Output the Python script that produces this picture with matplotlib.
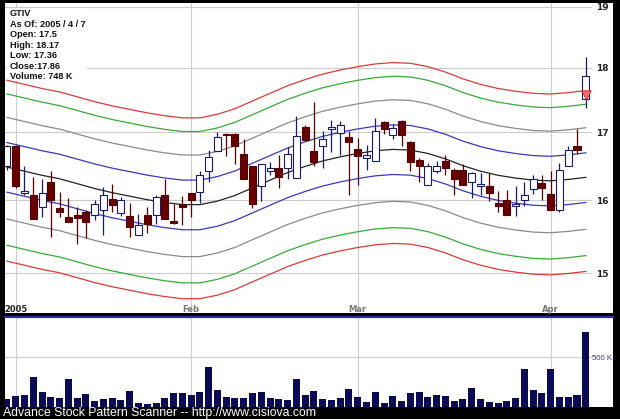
import matplotlib
matplotlib.use("Agg")
import numpy as np
from matplotlib import pyplot as plt
from matplotlib.lines import Line2D
from matplotlib.patches import Rectangle

# daily candles, Dec 31 2004 .. Apr 7 2005 (index = trading day)
opens = [16.49, 16.79, 16.10, 16.08, 15.90, 16.26, 15.89, 15.76, 15.80, 15.83,
         15.80, 15.87, 16.02, 15.82, 15.78, 15.51, 15.80, 15.80, 16.08, 15.71,
         15.95, 16.11, 16.12, 16.42, 16.71, 16.97, 16.97, 16.67, 16.49, 16.20,
         16.42, 16.46, 16.47, 16.32, 17.07, 16.71, 16.79, 17.05, 16.98, 16.92,
         16.75, 16.61, 16.57, 17.15, 16.95, 17.16, 16.85, 16.59, 16.22, 16.42,
         16.57, 16.43, 16.43, 16.27, 16.20, 16.20, 15.97, 16.00, 15.92, 16.00,
         16.16, 16.25, 16.09, 15.86, 16.50, 16.79, 17.50]
highs = [16.80, 16.80, 16.49, 16.34, 16.31, 16.42, 16.12, 16.04, 15.90, 15.86,
         16.01, 16.19, 16.24, 16.05, 15.97, 15.81, 15.90, 16.08, 16.30, 15.95,
         16.06, 16.11, 16.42, 16.73, 17.00, 16.98, 16.98, 16.89, 16.50, 16.52,
         16.56, 16.65, 16.77, 17.25, 17.11, 17.46, 17.02, 17.18, 17.16, 17.02,
         16.91, 16.81, 17.22, 17.16, 17.12, 17.18, 16.86, 16.62, 16.54, 16.57,
         16.66, 16.46, 16.52, 16.41, 16.39, 16.39, 16.13, 16.15, 16.20, 16.27,
         16.37, 16.37, 16.42, 16.54, 16.79, 17.04, 18.17]
lows = [16.44, 16.18, 16.07, 15.74, 15.77, 15.49, 15.77, 15.69, 15.40, 15.47,
        15.73, 15.51, 15.83, 15.78, 15.49, 15.51, 15.54, 15.67, 15.74, 15.67,
        15.65, 15.77, 15.97, 16.27, 16.71, 16.64, 16.53, 16.31, 15.89, 15.99,
        16.37, 16.18, 16.30, 16.32, 16.88, 16.50, 16.47, 16.70, 16.66, 16.07,
        16.22, 16.44, 16.57, 16.97, 16.89, 16.79, 16.42, 16.27, 16.22, 16.39,
        16.37, 16.08, 16.22, 16.04, 16.07, 15.99, 15.84, 15.80, 15.78, 15.92,
        16.09, 16.00, 15.86, 15.84, 16.49, 16.67, 17.36]
closes = [16.79, 16.20, 16.13, 15.74, 16.10, 16.00, 15.84, 15.69, 15.75, 15.69,
          15.95, 16.08, 15.94, 16.01, 15.63, 15.65, 15.67, 16.05, 15.74, 15.68,
          15.90, 16.01, 16.37, 16.63, 16.93, 16.95, 16.79, 16.31, 15.95, 16.52,
          16.46, 16.33, 16.67, 16.94, 16.88, 16.56, 16.89, 17.08, 17.11, 16.85,
          16.64, 16.66, 17.01, 17.04, 17.06, 16.95, 16.56, 16.49, 16.50, 16.50,
          16.47, 16.31, 16.22, 16.39, 16.24, 16.11, 15.92, 15.80, 15.95, 16.07,
          16.31, 16.18, 15.86, 16.44, 16.73, 16.73, 17.86]
volumes_k = [80, 107, 117, 303, 150, 100, 87, 277, 93, 127,
             57, 80, 93, 73, 163, 43, 30, 43, 87, 137,
             137, 117, 150, 403, 173, 103, 93, 93, 137, 147,
             87, 80, 73, 277, 123, 160, 77, 67, 93, 177,
             100, 47, 147, 43, 107, 60, 137, 153, 97, 117,
             107, 60, 80, 193, 80, 47, 37, 57, 87, 383,
             167, 137, 383, 103, 100, 123, 747]

# smoothed centre line (read every second day) and envelope widths
avg_days = list(range(0, 67, 2))
avg_price = [16.48, 16.42, 16.36, 16.31, 16.24, 16.17, 16.11, 16.06, 16.01,
             15.97, 15.94, 15.94, 15.99, 16.07, 16.18, 16.29, 16.40, 16.49,
             16.57, 16.63, 16.68, 16.72, 16.74, 16.73, 16.68, 16.60, 16.50,
             16.42, 16.36, 16.32, 16.29, 16.28, 16.30, 16.33]
band_steps = [0.022, 0.045, 0.067, 0.080]
band_colors = ["#3a3ab8", "#8a8a8a", "#3aa83a", "#d83a3a"]

month_days = [1, 21, 40, 62]
month_labels = ["2005", "Feb", "Mar", "Apr"]
price_ticks = [15, 16, 17, 18, 19]
signal_day, signal_price = 66, 17.57

info_lines = ["GTIV", "As Of: 2005 / 4 / 7", "Open: 17.5", "High: 18.17",
              "Low: 17.36", "Close:17.86", "Volume: 748 K"]

W, H = 620, 419


def box(x0, y0, x1, y1):
    return [x0 / W, 1 - y1 / H, (x1 - x0) / W, (y1 - y0) / H]


fig = plt.figure(figsize=(W / 100, H / 100), dpi=100, facecolor="black")

# white panels behind the axes (they reach past the plotting area on the right)
for y0, y1 in [(3, 313), (318, 407)]:
    fig.patches.append(Rectangle((5 / W, 1 - y1 / H), 608 / W, (y1 - y0) / H,
                                 transform=fig.transFigure, facecolor="white",
                                 edgecolor="none", zorder=-5))
fig.lines.append(Line2D([5 / W, 613 / W], [1 - 317 / H] * 2, transform=fig.transFigure,
                        color="#2a2aa8", lw=1.6))

xlim = (-0.22, 66.71)

# ---- price panel
ax = fig.add_axes(box(5, 3, 592, 313))
ax.set_facecolor("none")
ax.set_yscale("log")
ax.set_ylim(14.48, 19.06)
ax.set_xlim(*xlim)
for s in ax.spines.values():
    s.set_visible(False)

ax.set_yticks(price_ticks)
ax.set_yticklabels([str(t) for t in price_ticks])
ax.yaxis.set_minor_locator(plt.NullLocator())
ax.yaxis.tick_right()
ax.tick_params(axis="y", length=0, pad=3, labelsize=6.5, labelcolor="#222222")
for lab in ax.get_yticklabels():
    lab.set_fontweight("bold")
ax.set_xticks(month_days)
ax.set_xticklabels([])
ax.tick_params(axis="x", length=0)
ax.grid(True, color="#cccccc", lw=0.8)
ax.set_axisbelow(True)

for i, (lab, d) in enumerate(zip(month_labels, month_days)):
    ax.text(d, 0.012, lab, transform=ax.get_xaxis_transform(), ha="center", va="center",
            fontsize=6, fontweight="bold", color="#222222" if i == 0 else "#777777")

avg = np.array(avg_price)
ax.plot(avg_days, avg, color="#222222", lw=0.9, zorder=2)
for step, col in zip(band_steps, band_colors):
    ax.plot(avg_days, avg * (1 + step), color=col, lw=0.9, zorder=2)
    ax.plot(avg_days, avg * (1 - step), color=col, lw=0.9, zorder=2)

days = np.arange(len(opens))
o, h, l, c = map(np.array, (opens, highs, lows, closes))
up = c >= o
wick_col = np.where(up, "#1a1a66", "#5a0000")
ax.vlines(days, l, h, colors=wick_col, lw=0.9, zorder=3)
ax.bar(days[up], c[up] - o[up], bottom=o[up], width=0.8, color="white",
       edgecolor="#1a1a66", lw=0.8, zorder=4)
ax.bar(days[~up], o[~up] - c[~up], bottom=c[~up], width=0.8, color="#660000",
       edgecolor="#550000", lw=0.8, zorder=4)
ax.scatter([signal_day], [signal_price], marker="v", s=45, color="#f07070",
           edgecolor="#d02020", lw=0.6, zorder=5)

# quote box
ax.add_patch(Rectangle((2 / 587, (313 - 81) / 310), 80 / 587, 73 / 310,
                       transform=ax.transAxes, facecolor="white", edgecolor="none", zorder=1.5))
for k, line in enumerate(info_lines):
    ax.text(5 / 587, (313 - (14 + 10.5 * k)) / 310, line, transform=ax.transAxes,
            fontsize=6.6, fontweight="bold", family="Liberation Sans",
            color="#111111", va="center", zorder=6)

# ---- volume panel
axv = fig.add_axes(box(5, 318, 592, 407))
axv.set_facecolor("none")
axv.set_xlim(*xlim)
axv.set_ylim(0, 890)
for s in axv.spines.values():
    s.set_visible(False)
axv.bar(days, volumes_k, width=0.8, color="#0b0b55", zorder=3)
axv.set_yticks([500])
axv.set_yticklabels(["500 K"])
axv.yaxis.tick_right()
axv.tick_params(axis="y", length=0, pad=0, labelsize=5.6, labelcolor="#333388")
for lab in axv.get_yticklabels():
    lab.set_family("Liberation Sans")
axv.set_xticks(month_days)
axv.set_xticklabels([])
axv.tick_params(axis="x", length=0)
axv.grid(True, color="#cccccc", lw=0.8)
axv.set_axisbelow(True)

fig.text(3 / W, 1 - 413 / H, "Advance Stock Pattern Scanner -- http://www.cisiova.com",
         color="white", fontsize=8.8, family="Liberation Sans", va="center")

fig.savefig("out.png", dpi=100, facecolor="black")
